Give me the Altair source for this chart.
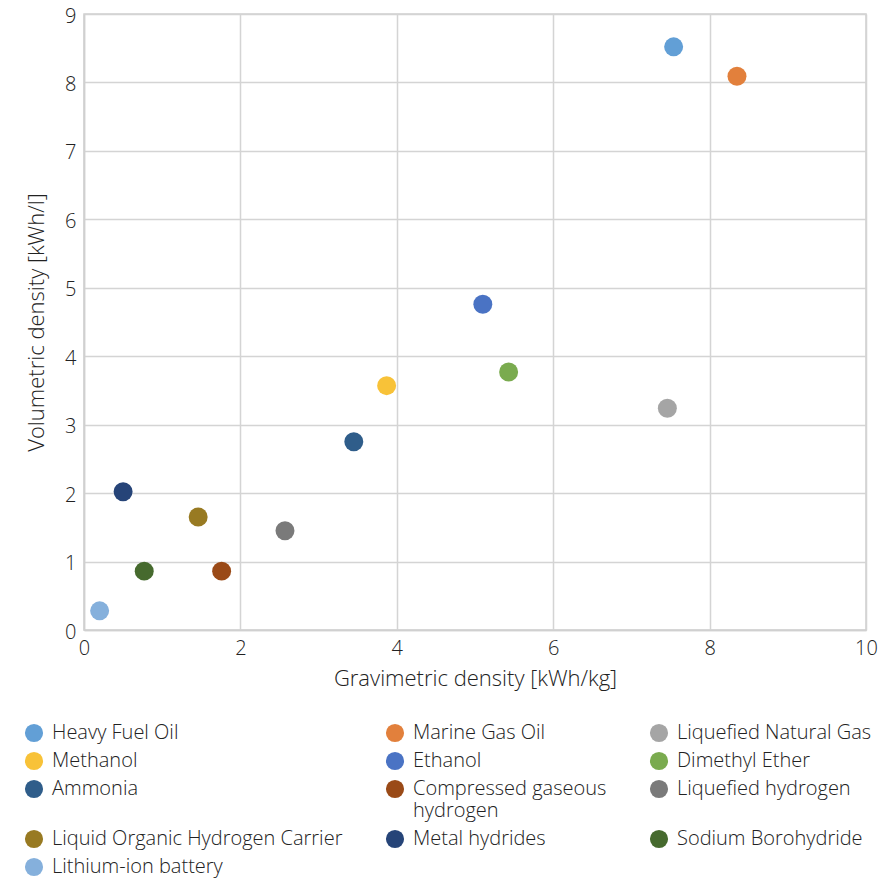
import altair as alt
import pandas as pd

names = ["Heavy Fuel Oil", "Marine Gas Oil", "Liquefied Natural Gas",
         "Methanol", "Ethanol", "Dimethyl Ether",
         "Ammonia", "Compressed gaseous hydrogen", "Liquefied hydrogen",
         "Liquid Organic Hydrogen Carrier", "Metal hydrides", "Sodium Borohydride",
         "Lithium-ion battery"]
gravimetric = [7.54, 8.35, 7.46, 3.87, 5.10, 5.43, 3.45, 1.76, 2.57, 1.46, 0.50, 0.77, 0.20]
volumetric = [8.52, 8.09, 3.24, 3.57, 4.76, 3.77, 2.75, 0.86, 1.45, 1.65, 2.02, 0.86, 0.28]
colors = ["#629FD6", "#E2803C", "#A5A5A5",
          "#F8C238", "#4A73C4", "#7AAB4F",
          "#2F5D8A", "#9A4A17", "#7A7A7A",
          "#987A22", "#264478", "#466A2E",
          "#85B0DC"]

df = pd.DataFrame({"name": names, "grav": gravimetric, "vol": volumetric})

FONT = "Open Sans"
TXT = "#222222"

chart = alt.Chart(df).mark_circle(size=360, opacity=1).encode(
    x=alt.X("grav:Q", title="Gravimetric density [kWh/kg]",
            scale=alt.Scale(domain=[0, 10], nice=False),
            axis=alt.Axis(values=[0, 2, 4, 6, 8, 10], format="d", labelFlush=False)),
    y=alt.Y("vol:Q", title="Volumetric density [kWh/l]",
            scale=alt.Scale(domain=[0, 9], nice=False),
            axis=alt.Axis(values=list(range(10)), format="d", labelFlush=False,
                          labelOffset=2)),
    color=alt.Color("name:N", scale=alt.Scale(domain=names, range=colors),
                    sort=names,
                    legend=alt.Legend(
                        title=None, orient="none", direction="horizontal", columns=3,
                        legendX=-60, legendY=709,
                        symbolType="circle", symbolSize=330, symbolOpacity=1,
                        symbolStrokeWidth=0,
                        labelFont=FONT, labelFontSize=20, labelFontWeight=300,
                        labelColor=TXT, labelLimit=400,
                        columnPadding=42, rowPadding=8, labelOffset=8,
                        labelExpr="datum.label == 'Compressed gaseous hydrogen' ? ['Compressed gaseous', 'hydrogen'] : datum.label",
                    )),
).properties(
    width=782, height=616,
    background="white",
    autosize=alt.AutoSizeParams(type="none"),
    padding={"left": 76, "top": 6, "right": 16, "bottom": 251},
).configure_view(
    stroke="#D0D0D0", strokeWidth=1.5
).configure_axis(
    grid=True, gridColor="#D4D4D4", gridWidth=1.5,
    domainColor="#D0D0D0", domainWidth=1.5,
    ticks=False,
    labelFont=FONT, labelFontSize=20, labelFontWeight=300, labelColor=TXT,
    titleFont=FONT, titleFontSize=22, titleFontWeight=300, titleColor=TXT,
    labelPadding=8,
).configure_axisX(
    titlePadding=10,
).configure_axisY(
    titlePadding=16,
)

chart.save("out.html", embed_options={"renderer": "svg", "actions": False})
